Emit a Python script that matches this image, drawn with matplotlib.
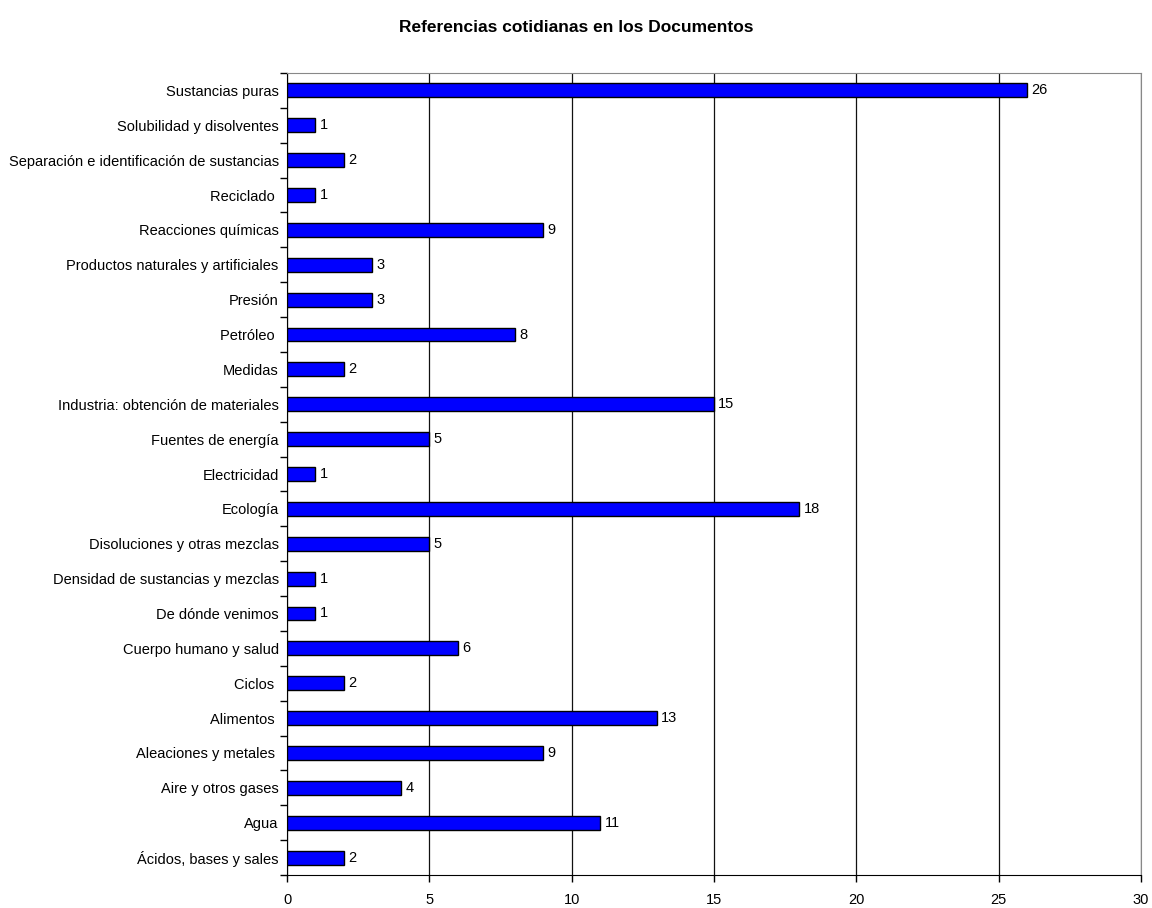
import matplotlib
matplotlib.use('Agg')
import matplotlib.pyplot as plt
import numpy as np

plt.rcParams['font.family'] = ['Liberation Sans', 'DejaVu Sans']

categories = ['Ácidos, bases y sales', 'Agua', 'Aire y otros gases', 'Aleaciones y metales ',
              'Alimentos ', 'Ciclos ', 'Cuerpo humano y salud', 'De dónde venimos',
              'Densidad de sustancias y mezclas', 'Disoluciones y otras mezclas', 'Ecología',
              'Electricidad', 'Fuentes de energía', 'Industria: obtención de materiales',
              'Medidas', 'Petróleo ', 'Presión', 'Productos naturales y artificiales',
              'Reacciones químicas', 'Reciclado ', 'Separación e identificación de sustancias',
              'Solubilidad y disolventes', 'Sustancias puras']
values = [2, 11, 4, 9, 13, 2, 6, 1, 1, 5, 18, 1, 5, 15, 2, 8, 3, 3, 9, 1, 2, 1, 26]
xticks = [0, 5, 10, 15, 20, 25, 30]

fig = plt.figure(figsize=(11.52, 9.08), dpi=100)
ax = fig.add_axes([287/1152, 1 - 875/908, (1141-287)/1152, (875-73)/908])

y = np.arange(len(categories))
ax.barh(y, values, height=0.4, color='#0000FF', edgecolor='black', linewidth=1, zorder=3)
for yi, v in zip(y, values):
    ax.text(v + 0.15, yi, str(v), va='center', ha='left', fontsize=10.5, zorder=4)

ax.set_xlim(0, 30)
ax.set_ylim(-0.5, len(categories) - 0.5)
ax.set_xticks(xticks)
ax.set_xticklabels([str(t) for t in xticks], fontsize=10.5)
ax.set_yticks(y)
ax.set_yticklabels(categories, fontsize=10.5)
ax.tick_params(axis='y', which='major', length=0, pad=6)
ax.set_yticks(np.arange(-0.5, len(categories), 1), minor=True)
ax.tick_params(axis='y', which='minor', length=5, direction='out', width=1)
ax.tick_params(axis='x', length=5, direction='out', width=1, pad=8)

ax.xaxis.grid(True, color='#111111', linewidth=0.9, zorder=0)
ax.set_axisbelow(True)
for s in ['top', 'right']:
    ax.spines[s].set_color('#888888')
ax.spines['left'].set_color('black')
ax.spines['bottom'].set_color('black')

fig.text(0.5, 1 - 27/908, 'Referencias cotidianas en los Documentos', ha='center', va='center',
         fontsize=12.5, fontweight='bold')

fig.savefig('out.png', dpi=100)
